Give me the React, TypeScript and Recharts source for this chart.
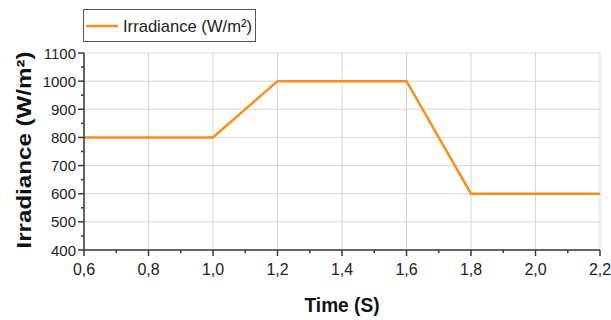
import { CartesianGrid, Legend, Line, LineChart, XAxis, YAxis } from "recharts";

const times = [0.6, 1.0, 1.2, 1.6, 1.8, 2.2];
const irradiance = [800, 800, 1000, 1000, 600, 600];

const xTicks = [0.6, 0.7, 0.8, 0.9, 1.0, 1.1, 1.2, 1.3, 1.4, 1.5, 1.6, 1.7, 1.8, 1.9, 2.0, 2.1, 2.2];
const xMajor = [0.6, 0.8, 1.0, 1.2, 1.4, 1.6, 1.8, 2.0, 2.2];
const yTicks = [400, 450, 500, 550, 600, 650, 700, 750, 800, 850, 900, 950, 1000, 1050, 1100];
const yMajor = [400, 500, 600, 700, 800, 900, 1000, 1100];

const data = times.map((t, i) => ({ t, irr: irradiance[i] }));

const FONT = "'Liberation Sans', Arial, sans-serif";
const ORANGE = "#FF8C1A";
const AXIS = "#3a3a3a";

const isMajorX = (v: number) => xMajor.some((m) => Math.abs(m - v) < 1e-6);
const isMajorY = (v: number) => yMajor.includes(v);

function XTick(props: any) {
  const { x, y, payload } = props;
  const major = isMajorX(payload.value);
  return (
    <g>
      <line x1={x} x2={x} y1={y} y2={y + (major ? 6 : 3)} stroke={AXIS} strokeWidth={1.5} />
      {major && (
        <text x={x} y={y + 25} textAnchor="middle" fontFamily={FONT} fontSize={16} fill="#222">
          {payload.value.toFixed(1).replace(".", ",")}
        </text>
      )}
    </g>
  );
}

function YTick(props: any) {
  const { x, y, payload } = props;
  const major = isMajorY(payload.value);
  return (
    <g>
      <line x1={x} x2={x - (major ? 6 : 3)} y1={y} y2={y} stroke={AXIS} strokeWidth={1.5} />
      {major && (
        <text x={x - 8} y={y + 5.5} textAnchor="end" fontFamily={FONT} fontSize={15} fill="#222">
          {payload.value}
        </text>
      )}
    </g>
  );
}

function LegendBox() {
  return (
    <svg width={173} height={33} style={{ display: "block" }}>
      <rect x={0.5} y={0.5} width={172} height={32} fill="#fff" stroke="#555" strokeWidth={1} />
      <line x1={3} x2={35} y1={17} y2={17} stroke={ORANGE} strokeWidth={2.5} />
      <text x={40} y={23} fontFamily={FONT} fontSize={17} fill="#222" textLength={129} lengthAdjust="spacingAndGlyphs">
        Irradiance (W/m²)
      </text>
    </svg>
  );
}

export default function App() {
  return (
    <div style={{ position: "absolute", left: 0, top: 0, width: 611, height: 320, background: "#fff" }}>
      <LineChart width={611} height={320} data={data} margin={{ top: 53, right: 11, left: 0, bottom: 0 }}>
        <CartesianGrid stroke="#d6d6d6" strokeWidth={1} verticalValues={xMajor} horizontalValues={yMajor} />
        <XAxis
          dataKey="t"
          type="number"
          domain={[0.6, 2.2]}
          ticks={xTicks}
          interval={0}
          height={70}
          tickSize={0}
          tickMargin={0}
          tickLine={false}
          axisLine={{ stroke: AXIS, strokeWidth: 1.5 }}
          tick={<XTick />}
          label={{
            content: () => (
              <text x={342} y={312} textAnchor="middle" fontFamily={FONT} fontWeight="bold" fontSize={20} fill="#111" textLength={75} lengthAdjust="spacingAndGlyphs">
                Time (S)
              </text>
            ),
          }}
        />
        <XAxis xAxisId="top" orientation="top" dataKey="t" type="number" domain={[0.6, 2.2]} height={0} tick={false} tickLine={false} axisLine={{ stroke: AXIS, strokeWidth: 1.5 }} />
        <YAxis
          type="number"
          domain={[400, 1100]}
          ticks={yTicks}
          interval={0}
          width={84}
          tickSize={0}
          tickMargin={0}
          tickLine={false}
          axisLine={{ stroke: AXIS, strokeWidth: 1.5 }}
          tick={<YTick />}
          label={{
            content: () => (
              <text transform="translate(31,150) rotate(-90)" textAnchor="middle" fontFamily={FONT} fontWeight="bold" fontSize={20} fill="#111" textLength={197} lengthAdjust="spacingAndGlyphs">
                Irradiance (W/m²)
              </text>
            ),
          }}
        />
        <YAxis yAxisId="right" orientation="right" domain={[400, 1100]} width={0} tick={false} tickLine={false} axisLine={{ stroke: AXIS, strokeWidth: 1.5 }} />
        <Legend
          verticalAlign="middle"
          align="center"
          content={() => <LegendBox />}
          wrapperStyle={{ position: "absolute", left: 83, top: 9, width: "auto", height: "auto" }}
        />
        <Line
          type="linear"
          dataKey="irr"
          stroke={ORANGE}
          strokeWidth={2.5}
          dot={false}
          activeDot={false}
          isAnimationActive={false}
        />
      </LineChart>
    </div>
  );
}
